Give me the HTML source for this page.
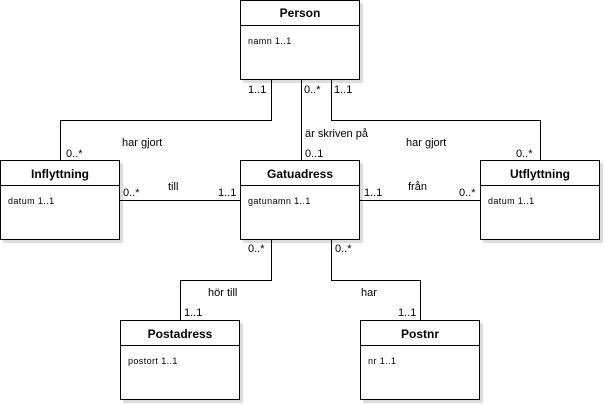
<!DOCTYPE html>
<html><head><meta charset="utf-8"><style>
html,body{margin:0;padding:0;background:#fff;width:606px;height:405px;overflow:hidden}
svg text{font-family:"Liberation Sans","DejaVu Sans",sans-serif}
</style></head><body>
<svg width="606" height="405" xmlns="http://www.w3.org/2000/svg">
<g fill="#dcdcdc">
<rect x="243" y="3" width="120" height="80"/>
<rect x="3" y="163" width="120" height="80"/>
<rect x="243" y="163" width="120" height="80"/>
<rect x="483" y="163" width="120" height="80"/>
<rect x="123" y="323" width="120" height="80"/>
<rect x="363" y="323" width="120" height="80"/>
</g>
<g fill="#fff" stroke="#000" stroke-width="1">
<rect x="240.5" y="0.5" width="119" height="79"/>
<rect x="0.5" y="160.5" width="119" height="79"/>
<rect x="240.5" y="160.5" width="119" height="79"/>
<rect x="480.5" y="160.5" width="119" height="79"/>
<rect x="120.5" y="320.5" width="119" height="79"/>
<rect x="360.5" y="320.5" width="119" height="79"/>
</g>
<g stroke="#000" fill="none" stroke-width="1">
<path d="M240 25.5H360M0 185.5H120M240 185.5H360M480 185.5H600M120 345.5H240M360 345.5H480"/>
<path d="M271.5 80V120.5H60.5V160"/>
<path d="M331.5 80V120.5H540.5V160"/>
<path d="M301.5 80V160"/>
<path d="M120 200.5H240M360 200.5H480"/>
<path d="M271.5 240V280.5H180.5V320"/>
<path d="M331.5 240V280.5H420.5V320"/>
</g>
<g font-size="12" font-weight="bold" text-anchor="middle">
<text x="300" y="17">Person</text>
<text x="60" y="178">Inflyttning</text>
<text x="300" y="178">Gatuadress</text>
<text x="540" y="178">Utflyttning</text>
<text x="180" y="338">Postadress</text>
<text x="420" y="338">Postnr</text>
</g>
<g font-size="9" letter-spacing="0.4">
<text x="248" y="44">namn 1..1</text>
<text x="8" y="204">datum 1..1</text>
<text x="248" y="204">gatunamn 1..1</text>
<text x="488" y="204">datum 1..1</text>
<text x="128" y="364">postort 1..1</text>
<text x="368" y="364">nr 1..1</text>
</g>
<g font-size="11">
<text x="248" y="93">1..1</text>
<text x="304" y="93">0..*</text>
<text x="334" y="93">1..1</text>
<text x="122" y="146">har gjort</text>
<text x="305" y="137">är skriven på</text>
<text x="305" y="157">0..1</text>
<text x="406" y="146">har gjort</text>
<text x="66" y="157">0..*</text>
<text x="516" y="157">0..*</text>
<text x="123" y="196">0..*</text>
<text x="168" y="190">till</text>
<text x="218" y="196">1..1</text>
<text x="364" y="196">1..1</text>
<text x="408" y="190">från</text>
<text x="459" y="196">0..*</text>
<text x="248" y="252">0..*</text>
<text x="335" y="252">0..*</text>
<text x="208" y="296">hör till</text>
<text x="361" y="296">har</text>
<text x="184" y="316">1..1</text>
<text x="398" y="316">1..1</text>
</g>
</svg>
</body></html>
